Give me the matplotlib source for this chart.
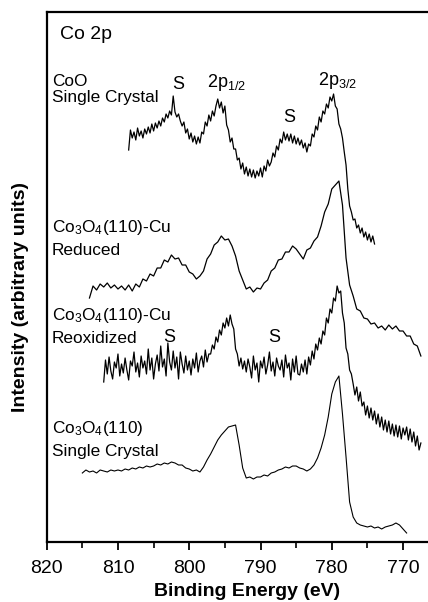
import numpy as np
import matplotlib
matplotlib.use("Agg")
import matplotlib.pyplot as plt
from matplotlib.ticker import MultipleLocator

plt.rcParams['font.family'] = ['Liberation Sans', 'DejaVu Sans']
plt.rcParams['mathtext.fontset'] = 'custom'
plt.rcParams['mathtext.rm'] = 'Liberation Sans'
plt.rcParams['mathtext.it'] = 'Liberation Sans'

# ---------------- data (binding energy in eV, intensity arbitrary, offset stacked) ----------------
coo_start, coo_end = 808.5, 774.0
coo_vals = [
    392, 412, 404, 410, 402, 414, 406, 411, 404, 413,
    408, 415, 409, 418, 411, 419, 414, 421, 416, 424,
    420, 428, 424, 431, 427, 446, 430, 425, 428, 421,
    416, 420, 409, 413, 403, 409, 400, 406, 398, 405,
    399, 410, 408, 420, 416, 427, 421, 431, 426, 436,
    443, 434, 440, 429, 436, 417, 412, 400, 404, 393,
    393, 382, 384, 373, 379, 368, 375, 366, 373, 365,
    372, 364, 371, 366, 374, 365, 376, 371, 382, 376,
    380, 389, 385, 396, 392, 403, 399, 410, 402, 408,
    401, 408, 399, 406, 398, 404, 397, 402, 394, 399,
    390, 398, 396, 408, 405, 416, 412, 425, 420, 431,
    428, 438, 434, 445, 441, 448, 436, 433, 418, 413,
    404, 390, 377, 353, 336, 330, 322, 323, 314, 317,
    309, 314, 305, 310, 302, 308, 300, 306, 298,
]

red_start, red_end = 814.0, 767.5
red_vals = [
    244, 256, 252, 258, 255, 259, 254, 257, 253, 256,
    252, 257, 251, 258, 255, 263, 261, 268, 266, 274,
    274, 282, 280, 287, 283, 284, 277, 277, 270, 268,
    263, 266, 271, 283, 288, 297, 300, 306, 302, 303,
    296, 286, 271, 262, 253, 255, 250, 254, 253, 259,
    262, 271, 274, 282, 283, 290, 290, 296, 293, 288,
    283, 292, 294, 301, 305, 316, 330, 338, 353, 357,
    361, 337, 284, 257, 246, 233, 231, 224, 223, 218,
    219, 214, 216, 212, 217, 213, 216, 211, 211, 206,
    206, 198, 196, 186,
]

reox_start, reox_end = 812.0, 767.5
reox_vals = [
    160, 182, 168, 185, 171, 163, 180, 174, 188, 166,
    178, 169, 184, 172, 162, 181, 176, 190, 170, 179,
    165, 186, 174, 181, 168, 193, 172, 184, 163, 178,
    187, 171, 196, 175, 183, 166, 199, 180, 172, 191,
    174, 185, 163, 190, 178, 169, 186, 172, 181, 167,
    183, 174, 189, 170, 181, 186, 175, 192, 180, 188,
    188, 197, 193, 205, 200, 212, 207, 219, 214, 224,
    216, 227, 218, 213, 193, 188, 176, 184, 173, 181,
    170, 183, 175, 164, 186, 172, 179, 160, 181, 174,
    185, 168, 177, 190, 171, 180, 166, 184, 176, 172,
    182, 165, 187, 174, 179, 162, 183, 170, 186, 168,
    167, 178, 170, 182, 168, 185, 177, 191, 183, 198,
    192, 204, 198, 211, 207, 224, 219, 233, 229, 244,
    241, 256, 249, 251, 229, 219, 194, 188, 172, 168,
    158, 147, 155, 141, 150, 136, 140, 127, 136, 124,
    134, 122, 131, 118, 128, 115, 125, 112, 122, 110,
    121, 108, 118, 106, 117, 105, 116, 103, 114, 107,
    115, 102, 113, 100, 110, 96, 106, 92, 99,
]

sc_start, sc_end = 815.0, 769.5
sc_vals = [
    69, 72, 70, 71, 69, 72, 71, 70, 72, 71,
    72, 71, 73, 72, 74, 73, 75, 74, 76, 75,
    76, 78, 77, 79, 78, 80, 79, 77, 77, 74,
    73, 71, 72, 70, 75, 82, 88, 95, 102, 107,
    111, 115, 116, 117, 97, 74, 64, 65, 63, 65,
    65, 67, 66, 69, 70, 72, 73, 75, 74, 76,
    76, 74, 73, 71, 73, 77, 84, 94, 107, 125,
    148, 160, 166, 128, 85, 40, 25, 19, 17, 16,
    15, 16, 14, 15, 13, 15, 16, 17, 19, 17,
    13, 9,
]

xticks = [820, 810, 800, 790, 780, 770]

# ---------------- figure ----------------
fig = plt.figure(figsize=(4.28, 6.02), dpi=100)
ax = fig.add_axes([46.7 / 428, 60 / 602, 1 - 46.7 / 428, 530 / 602])

series = [
    (coo_start, coo_end, coo_vals, 0.9),
    (red_start, red_end, red_vals, 0.9),
    (reox_start, reox_end, reox_vals, 0.9),
    (sc_start, sc_end, sc_vals, 0.8),
]
for s, e, v, lw in series:
    x = np.linspace(s, e, len(v))
    ax.plot(x, v, color='black', lw=lw)

ax.set_xlim(820, 766.5)
ax.set_ylim(0, 530)
ax.set_xticks(xticks)
ax.xaxis.set_minor_locator(MultipleLocator(5))
ax.set_yticks([])
ax.tick_params(axis='x', which='major', direction='out', length=6, width=1.3,
               labelsize=14, pad=7)
ax.tick_params(axis='x', which='minor', direction='out', length=4, width=1.2)
for side in ['left', 'bottom', 'top']:
    ax.spines[side].set_linewidth(1.6)
ax.spines['right'].set_visible(False)

fig.text(21 / 428, 1 - 297 / 602, 'Intensity (arbitrary units)', rotation=90,
         ha='center', va='center', fontsize=14, fontweight='bold')
fig.text(247 / 428, 1 - 592 / 602, 'Binding Energy (eV)',
         ha='center', va='center', fontsize=14, fontweight='bold')

lab = dict(ha='left', va='baseline', fontsize=12.4)
ax.text(818.1, 503, 'Co 2p', ha='left', va='baseline', fontsize=14)
ax.text(819.25, 456, 'CoO', **lab)
ax.text(819.25, 440, 'Single Crystal', **lab)
ax.text(819.25, 310, r'Co$_\mathregular{3}$O$_\mathregular{4}$(110)-Cu', **lab)
ax.text(819.25, 287, 'Reduced', **lab)
ax.text(819.25, 222, r'Co$_\mathregular{3}$O$_\mathregular{4}$(110)-Cu', **lab)
ax.text(819.25, 199, 'Reoxidized', **lab)
ax.text(819.3, 109, r'Co$_\mathregular{3}$O$_\mathregular{4}$(110)', **lab)
ax.text(819.3, 86, 'Single Crystal', **lab)

ann = dict(va='baseline', fontsize=13)
ax.text(801.6, 453, 'S', ha='center', **ann)
ax.text(797.5, 455, r'2p$_\mathregular{1/2}$', ha='left', **ann)
ax.text(786.0, 420, 'S', ha='center', **ann)
ax.text(781.9, 457, r'2p$_\mathregular{3/2}$', ha='left', **ann)
ax.text(802.8, 200, 'S', ha='center', **ann)
ax.text(788.1, 200, 'S', ha='center', **ann)

fig.savefig('out.png', dpi=100)
